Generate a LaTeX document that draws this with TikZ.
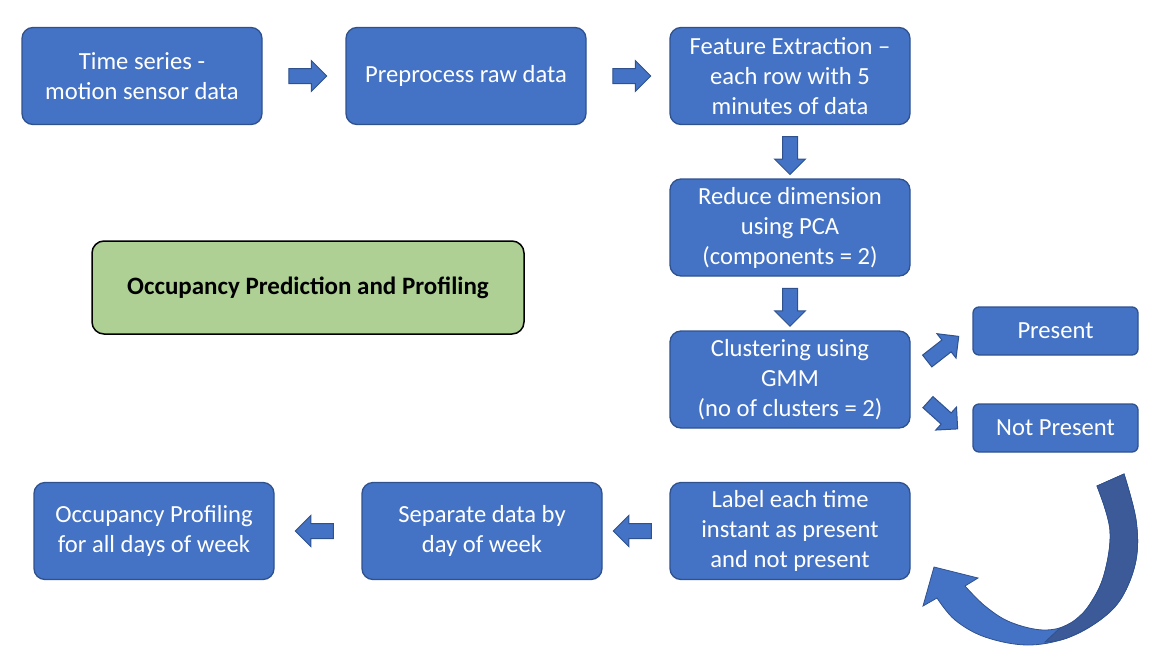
\documentclass[tikz,border=0pt]{standalone}
\usepackage{fontspec}
\setmainfont{Carlito}
\usetikzlibrary{shapes.arrows,calc}
\definecolor{boxblue}{HTML}{4472C4}
\definecolor{boxedge}{HTML}{2F528F}
\definecolor{darkblue}{HTML}{3C5A97}
\definecolor{greenfill}{HTML}{AFD095}
\tikzset{
  procbox/.style={draw=boxedge, line width=1.3pt, fill=boxblue, rounded corners=11pt,
    minimum width=240pt, minimum height=97pt, text=white, align=center,
    font=\fontsize{24.6}{30}\selectfont, inner sep=0pt},
  smallbox/.style={draw=boxedge, line width=1.3pt, fill=boxblue, rounded corners=6pt,
    minimum width=165pt, minimum height=48pt, text=white, align=center,
    font=\fontsize{24.6}{30}\selectfont, inner sep=0pt},
  blockarrow/.style={single arrow, draw=boxedge, line width=1pt, fill=boxblue,
    minimum height=38pt, inner sep=7pt, single arrow head extend=8pt,
    single arrow head indent=0pt},
}
\begin{document}
\begin{tikzpicture}[x=1pt,y=-1pt]
\useasboundingbox (0,0) rectangle (1170,662);
\node[procbox] (ts) at (142,76) {Time series -\\motion sensor data};
\node[procbox] (pre) at (466,76) {Preprocess raw data};
\node[procbox] (fe) at (790,76) {Feature Extraction --\\each row with 5\\minutes of data};
\node[procbox] (pca) at (790,227.5) {Reduce dimension\\using PCA\\(components = 2)};
\node[procbox] (gmm) at (790,379.5) {Clustering using\\GMM\\(no of clusters = 2)};
\node[smallbox] (pr) at (1055.5,331) {Present};
\node[smallbox] (np) at (1055.5,428) {Not Present};
\node[procbox] (lab) at (790,531) {Label each time\\instant as present\\and not present};
\node[procbox] (sep) at (482,531) {Separate data by\\day of week};
\node[procbox] (prof) at (154,531) {Occupancy Profiling\\for all days of week};
\node[draw=black, line width=1.5pt, fill=greenfill, rounded corners=12pt,
  minimum width=432pt, minimum height=93pt, font=\fontsize{25}{30}\selectfont\bfseries]
  (title) at (308,287.5) {Occupancy Prediction and Profiling};
% block arrows
\node[blockarrow] (a1) at ($(ts.east)!0.5!(pre.west)$) {};
\node[blockarrow] (a2) at ($(pre.east)!0.5!(fe.west)$) {};
\node[blockarrow, rotate=-90] (a3) at ($(fe.south)!0.5!(pca.north)$) {};
\node[blockarrow, rotate=-90] (a4) at ($(pca.south)!0.5!(gmm.north)$) {};
\node[blockarrow, rotate=38, minimum height=40pt] (a5) at (940,351) {};
\node[blockarrow, rotate=-42, minimum height=40pt] (a6) at (940,413) {};
\node[blockarrow, rotate=180] (a7) at ($(lab.west)!0.5!(sep.east)$) {};
\node[blockarrow, rotate=180] (a8) at ($(sep.west)!0.5!(prof.east)$) {};
% curved arrow
\filldraw[fill=boxblue, draw=boxedge, line width=0.8pt]
  plot[smooth, tension=0.6] coordinates {(1124,474) (1136,520) (1136,560) (1122,597) (1100,620) (1067,638) (1027,645) (985,637) (955,620) (937,598)}
  -- (923,606) -- (934,567) -- (978,578)
  -- plot[smooth, tension=0.6] coordinates {(965,586) (985,606) (1010,622) (1043,630) (1070,624) (1088,607) (1104,575) (1110,530) (1097,486)}
  -- cycle;
\filldraw[fill=darkblue, draw=boxedge, line width=0.8pt]
  plot[smooth, tension=0.6] coordinates {(1124,474) (1136,520) (1136,560) (1122,597) (1100,620) (1067,638) (1045,642)}
  -- plot[smooth, tension=0.6] coordinates {(1060,628) (1075,620) (1090,604) (1104,575) (1110,530) (1097,486)}
  -- cycle;
\end{tikzpicture}
\end{document}
